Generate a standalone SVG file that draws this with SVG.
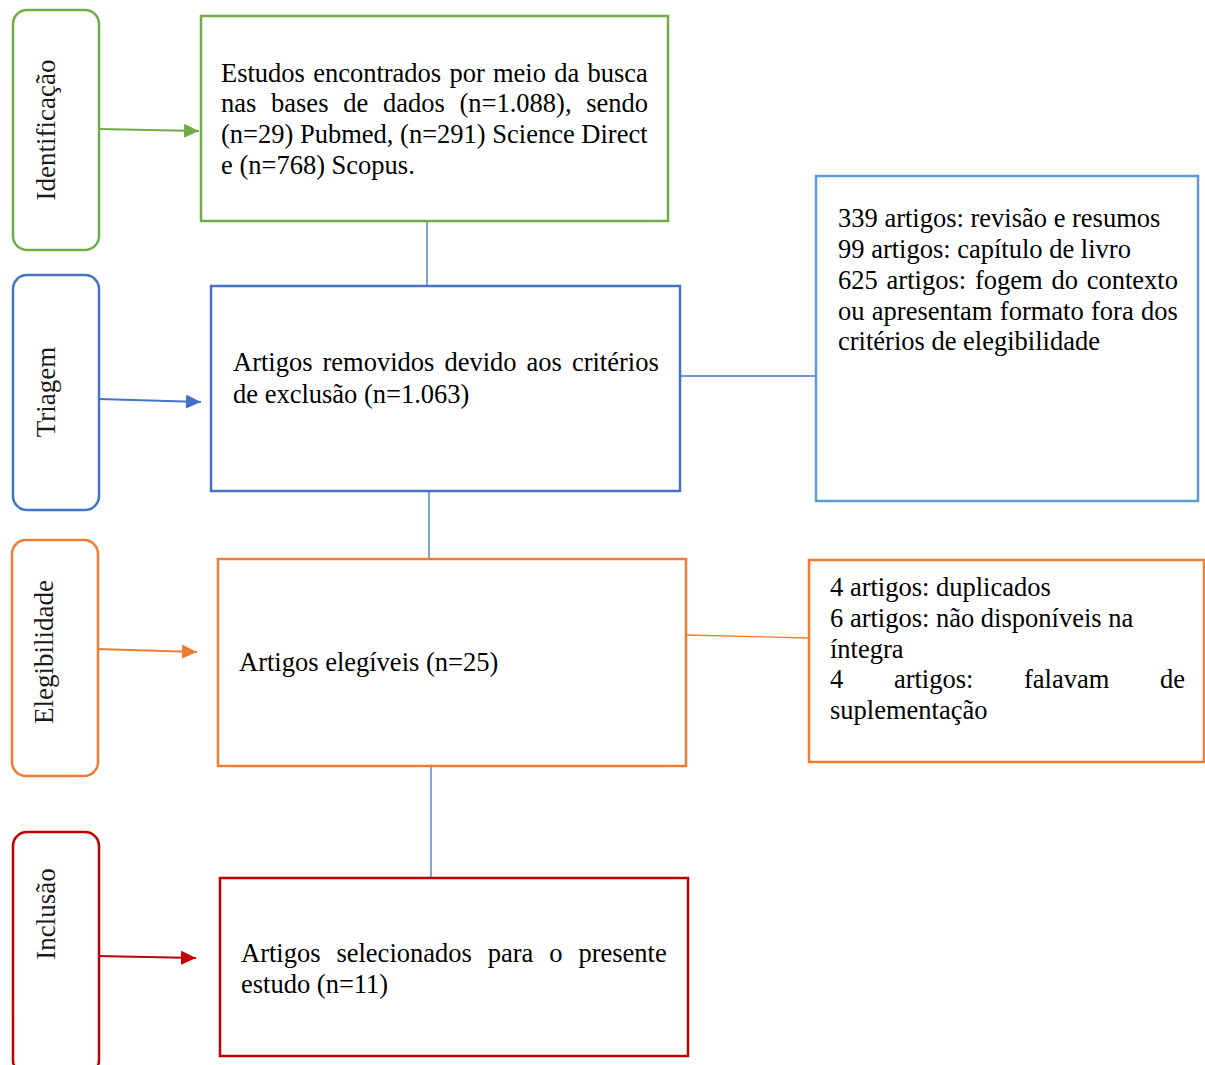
<svg xmlns="http://www.w3.org/2000/svg" width="1205" height="1065" viewBox="0 0 1205 1065">
<style>
  .t { font-family: "Liberation Serif", "Times New Roman", serif; font-size: 26.5px; fill: #000; }
  .lbl { font-family: "Liberation Serif", "Times New Roman", serif; font-size: 27px; fill: #1a1a1a; text-anchor: middle; }
  .box { fill: #fff; stroke-width: 2.5; }
  .phase { fill: #fff; stroke-width: 2.5; }
  .g { stroke: #70AD47; }
  .b { stroke: #4472C4; }
  .o { stroke: #ED7D31; }
  .r { stroke: #C00000; }
  .lb { stroke: #5B9BD5; }
  .conn { fill: none; stroke-width: 1.3; }
  .arr { fill: none; stroke-width: 2.2; }
</style>
<defs>
  <marker id="mg" markerUnits="userSpaceOnUse" markerWidth="16" markerHeight="16" refX="15" refY="7" orient="auto"><path d="M0,0 L15,7 L0,14 Z" fill="#70AD47"/></marker>
  <marker id="mb" markerUnits="userSpaceOnUse" markerWidth="16" markerHeight="16" refX="15" refY="7" orient="auto"><path d="M0,0 L15,7 L0,14 Z" fill="#4472C4"/></marker>
  <marker id="mo" markerUnits="userSpaceOnUse" markerWidth="16" markerHeight="16" refX="15" refY="7" orient="auto"><path d="M0,0 L15,7 L0,14 Z" fill="#ED7D31"/></marker>
  <marker id="mr" markerUnits="userSpaceOnUse" markerWidth="16" markerHeight="16" refX="15" refY="7" orient="auto"><path d="M0,0 L15,7 L0,14 Z" fill="#C00000"/></marker>
</defs>
<rect width="1205" height="1065" fill="#fff"/>

<g id="connectors">
  <line class="arr g" x1="99" y1="129" x2="199" y2="131" marker-end="url(#mg)"/>
  <line class="arr b" x1="99" y1="399" x2="201" y2="402" marker-end="url(#mb)"/>
  <line class="arr o" x1="96" y1="649" x2="197" y2="652" marker-end="url(#mo)"/>
  <line class="arr r" x1="96" y1="956" x2="196" y2="958" marker-end="url(#mr)"/>
  <line class="conn b" x1="427" y1="222" x2="427" y2="286"/>
  <line class="conn b" x1="680" y1="376" x2="816" y2="376"/>
  <line class="conn b" x1="429" y1="491" x2="429" y2="559"/>
  <line class="conn o" x1="686" y1="635" x2="809" y2="638"/>
  <line class="conn b" x1="431" y1="766" x2="431" y2="878"/>
</g>

<g id="phase-identificacao">
  <rect class="phase g" x="13" y="10" width="86" height="240" rx="14"/>
  <text class="lbl" transform="translate(55,130) rotate(-90)">Identificação</text>
</g>
<g id="phase-triagem">
  <rect class="phase b" x="13" y="275" width="86" height="235" rx="14"/>
  <text class="lbl" transform="translate(55,392) rotate(-90)">Triagem</text>
</g>
<g id="phase-elegibilidade">
  <rect class="phase o" x="12" y="540" width="86" height="236" rx="14"/>
  <text class="lbl" transform="translate(53,652) rotate(-90)">Elegibilidade</text>
</g>
<g id="phase-inclusao">
  <rect class="phase r" x="13" y="832" width="86" height="242" rx="14"/>
  <text class="lbl" transform="translate(55,914) rotate(-90)">Inclusão</text>
</g>

<g id="node-identificados">
  <rect class="box g" x="201" y="16" width="467" height="205"/>
  <text class="t" x="221" y="82" word-spacing="1.6">Estudos encontrados por meio da busca</text>
  <text class="t" x="221" y="112" word-spacing="8.1">nas bases de dados (n=1.088), sendo</text>
  <text class="t" x="221" y="143">(n=29) Pubmed, (n=291) Science Direct</text>
  <text class="t" x="221" y="174">e (n=768) Scopus.</text>
</g>

<g id="node-removidos">
  <rect class="box b" x="211" y="286" width="469" height="205"/>
  <text class="t" x="233" y="371" word-spacing="3.4">Artigos removidos devido aos critérios</text>
  <text class="t" x="233" y="403">de exclusão (n=1.063)</text>
</g>

<g id="node-exclusao-detalhe">
  <rect class="box lb" x="816" y="176" width="382" height="325"/>
  <text class="t" x="838" y="227">339 artigos: revisão e resumos</text>
  <text class="t" x="838" y="258">99 artigos: capítulo de livro</text>
  <text class="t" x="838" y="289" word-spacing="2.2">625 artigos: fogem do contexto</text>
  <text class="t" x="838" y="320" word-spacing="0.7">ou apresentam formato fora dos</text>
  <text class="t" x="838" y="350">critérios de elegibilidade</text>
</g>

<g id="node-elegiveis">
  <rect class="box o" x="218" y="559" width="468" height="207"/>
  <text class="t" x="239" y="671">Artigos elegíveis (n=25)</text>
</g>

<g id="node-elegibilidade-detalhe">
  <rect class="box o" x="809" y="560" width="395" height="202"/>
  <text class="t" x="830" y="596">4 artigos: duplicados</text>
  <text class="t" x="830" y="627">6 artigos: não disponíveis na</text>
  <text class="t" x="830" y="658">íntegra</text>
  <text class="t" x="830" y="688" word-spacing="44">4 artigos: falavam de</text>
  <text class="t" x="830" y="719">suplementação</text>
</g>

<g id="node-selecionados">
  <rect class="box r" x="220" y="878" width="468" height="178"/>
  <text class="t" x="241" y="962" word-spacing="9.3">Artigos selecionados para o presente</text>
  <text class="t" x="241" y="993">estudo (n=11)</text>
</g>
</svg>
